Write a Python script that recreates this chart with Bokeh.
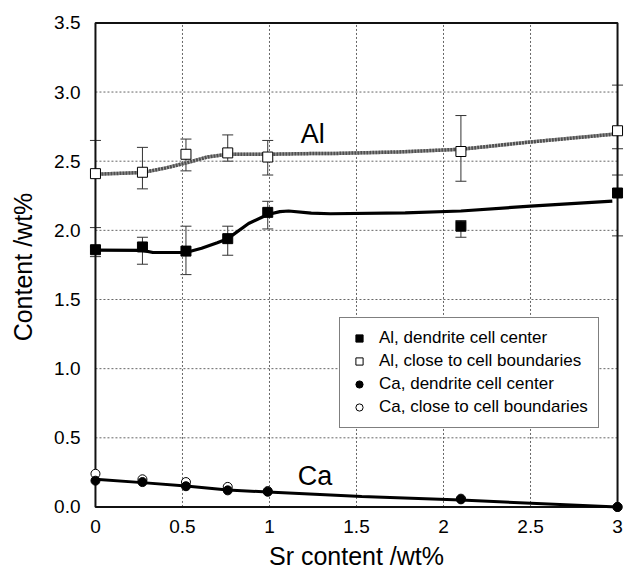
from bokeh.plotting import figure
from bokeh.models import (Range1d, FixedTicker, Whisker, TeeHead, ColumnDataSource,
                          Legend, LegendItem, Label)
from bokeh.embed import file_html
from bokeh.resources import INLINE

# ---- data ----
sr = [0.0, 0.27, 0.52, 0.76, 0.99, 2.10, 3.0]

al_center = [1.86, 1.88, 1.85, 1.94, 2.13, 2.03, 2.27]
al_center_lo = [1.81, 1.755, 1.68, 1.82, 2.01, 1.95, 1.96]
al_center_hi = [1.88, 1.95, 2.03, 2.03, 2.21, 2.07, 2.59]

al_bound = [2.41, 2.42, 2.55, 2.56, 2.53, 2.57, 2.72]
al_bound_lo = [2.02, 2.30, 2.43, 2.50, 2.40, 2.355, 2.40]
al_bound_hi = [2.65, 2.60, 2.66, 2.69, 2.65, 2.83, 3.05]

ca_center = [0.19, 0.18, 0.15, 0.12, 0.11, 0.055, 0.0]
ca_bound = [0.24, 0.20, 0.18, 0.145, 0.115, 0.06, 0.0]

# fitted curves
al_center_fit_x = [0.0, 0.27, 0.33, 0.52, 0.61, 0.70, 0.76, 0.88, 0.99, 1.06, 1.11, 1.24, 1.35, 1.78, 2.10, 2.50, 2.97]
al_center_fit_y = [1.857, 1.855, 1.840, 1.840, 1.870, 1.910, 1.940, 2.050, 2.115, 2.135, 2.140, 2.125, 2.120, 2.127, 2.140, 2.175, 2.211]

al_bound_fit_x = [0.0, 0.27, 0.40, 0.52, 0.645, 0.76, 0.99, 1.24, 1.35, 1.74, 2.10, 2.50, 2.97]
al_bound_fit_y = [2.406, 2.418, 2.450, 2.487, 2.531, 2.550, 2.550, 2.555, 2.555, 2.567, 2.586, 2.639, 2.694]

ca_fit_x = [0.0, 0.27, 0.52, 0.76, 0.99, 1.35, 1.53, 2.10, 3.0]
ca_fit_y = [0.200, 0.176, 0.151, 0.123, 0.108, 0.087, 0.075, 0.050, 0.0]

x_ticks = [0, 0.5, 1, 1.5, 2, 2.5, 3]
x_tick_labels = ["0", "0.5", "1", "1.5", "2", "2.5", "3"]
y_ticks = [0, 0.5, 1, 1.5, 2, 2.5, 3, 3.5]
y_tick_labels = ["0.0", "0.5", "1.0", "1.5", "2.0", "2.5", "3.0", "3.5"]

FONT = "Liberation Sans"

p = figure(width=624, height=572, output_backend="svg", toolbar_location=None,
           x_range=Range1d(-0.04, 3.04), y_range=Range1d(-0.04, 3.51),
           min_border_left=88, min_border_right=0, min_border_top=21, min_border_bottom=59)
p.outline_line_color = None
p.grid.visible = False
p.background_fill_color = "white"

for ax in (p.xaxis[0], p.yaxis[0]):
    ax.axis_line_color = None
    ax.major_tick_line_color = None
    ax.minor_tick_line_color = None
    ax.major_tick_out = 0
    ax.major_tick_in = 0
    ax.minor_tick_out = 0
    ax.minor_tick_in = 0
    ax.major_label_text_font = FONT
    ax.major_label_text_font_size = "19px"
    ax.major_label_text_color = "black"
    ax.axis_label_text_font = FONT
    ax.axis_label_text_font_size = "25px"
    ax.axis_label_text_font_style = "normal"
    ax.axis_label_text_color = "black"

p.xaxis.ticker = FixedTicker(ticks=x_ticks)
p.xaxis.major_label_overrides = dict(zip(x_ticks, x_tick_labels))
p.yaxis.ticker = FixedTicker(ticks=y_ticks)
p.yaxis.major_label_overrides = dict(zip(y_ticks, y_tick_labels))
p.xaxis.axis_label = "Sr content /wt%"
p.yaxis.axis_label = "Content /wt%"
p.xaxis.major_label_standoff = 7
p.xaxis.axis_label_standoff = 6
p.yaxis.major_label_standoff = 8
p.yaxis.axis_label_standoff = 14

# grid lines inside the box
gx = x_ticks[1:-1]
p.segment(x0=gx, y0=[y_ticks[0]] * len(gx), x1=gx, y1=[y_ticks[-1]] * len(gx),
          line_color="#666666", line_width=1, line_dash="2 2")
gy = y_ticks[1:-1]
p.segment(x0=[x_ticks[0]] * len(gy), y0=gy, x1=[x_ticks[-1]] * len(gy), y1=gy,
          line_color="#666666", line_width=1, line_dash="2 2")

# box
p.quad(left=[x_ticks[0]], right=[x_ticks[-1]], bottom=[y_ticks[0]], top=[y_ticks[-1]],
       fill_color=None, line_color="#111111", line_width=2)

# fitted curves
p.line(al_bound_fit_x, al_bound_fit_y, line_color="#a8a8a8", line_width=3.5)
p.line(al_bound_fit_x, al_bound_fit_y, line_color="#505050", line_width=3.5, line_dash="2 1")
p.line(al_center_fit_x, al_center_fit_y, line_color="black", line_width=3.2)
p.line(ca_fit_x, ca_fit_y, line_color="black", line_width=3)

# error bars
src_c = ColumnDataSource(dict(x=sr, lo=al_center_lo, hi=al_center_hi))
src_b = ColumnDataSource(dict(x=sr, lo=al_bound_lo, hi=al_bound_hi))
for src in (src_b, src_c):
    w = Whisker(source=src, base="x", lower="lo", upper="hi", dimension="height",
                line_color="#333333", line_width=1,
                upper_head=TeeHead(size=11, line_color="#333333", line_width=1),
                lower_head=TeeHead(size=11, line_color="#333333", line_width=1))
    p.add_layout(w)

# markers
r_ab = p.scatter(sr, al_bound, marker="square", size=10, fill_color="white",
                 line_color="black", line_width=1)
r_ac = p.scatter(sr, al_center, marker="square", size=10, fill_color="black",
                 line_color="black", line_width=1)
r_cb = p.scatter(sr, ca_bound, marker="circle", size=9, fill_color="white",
                 line_color="black", line_width=1)
r_cc = p.scatter(sr, ca_center, marker="circle", size=9, fill_color="black",
                 line_color="black", line_width=1)

legend = Legend(items=[
    LegendItem(label="Al, dendrite cell center", renderers=[r_ac]),
    LegendItem(label="Al, close to cell boundaries", renderers=[r_ab]),
    LegendItem(label="Ca, dendrite cell center", renderers=[r_cc]),
    LegendItem(label="Ca, close to cell boundaries", renderers=[r_cb]),
], location=(251, 84))
legend.label_text_font = FONT
legend.label_text_font_size = "17px"
legend.label_text_color = "black"
legend.label_height = 20
legend.glyph_height = 20
legend.glyph_width = 18
legend.label_standoff = 11
legend.spacing = 3
legend.padding = 10
legend.margin = 0
legend.border_line_color = "black"
legend.border_line_width = 1.5
legend.background_fill_color = "white"
legend.background_fill_alpha = 1
p.add_layout(legend, "center")

p.add_layout(Label(x=1.18, y=2.70, text="Al", text_font=FONT, text_font_size="27px",
                   text_color="black", text_baseline="alphabetic"))
p.add_layout(Label(x=1.163, y=0.224, text="Ca", text_font=FONT, text_font_size="27px",
                   text_color="black", text_baseline="alphabetic"))

open("out.html", "w").write(file_html(p, INLINE))
